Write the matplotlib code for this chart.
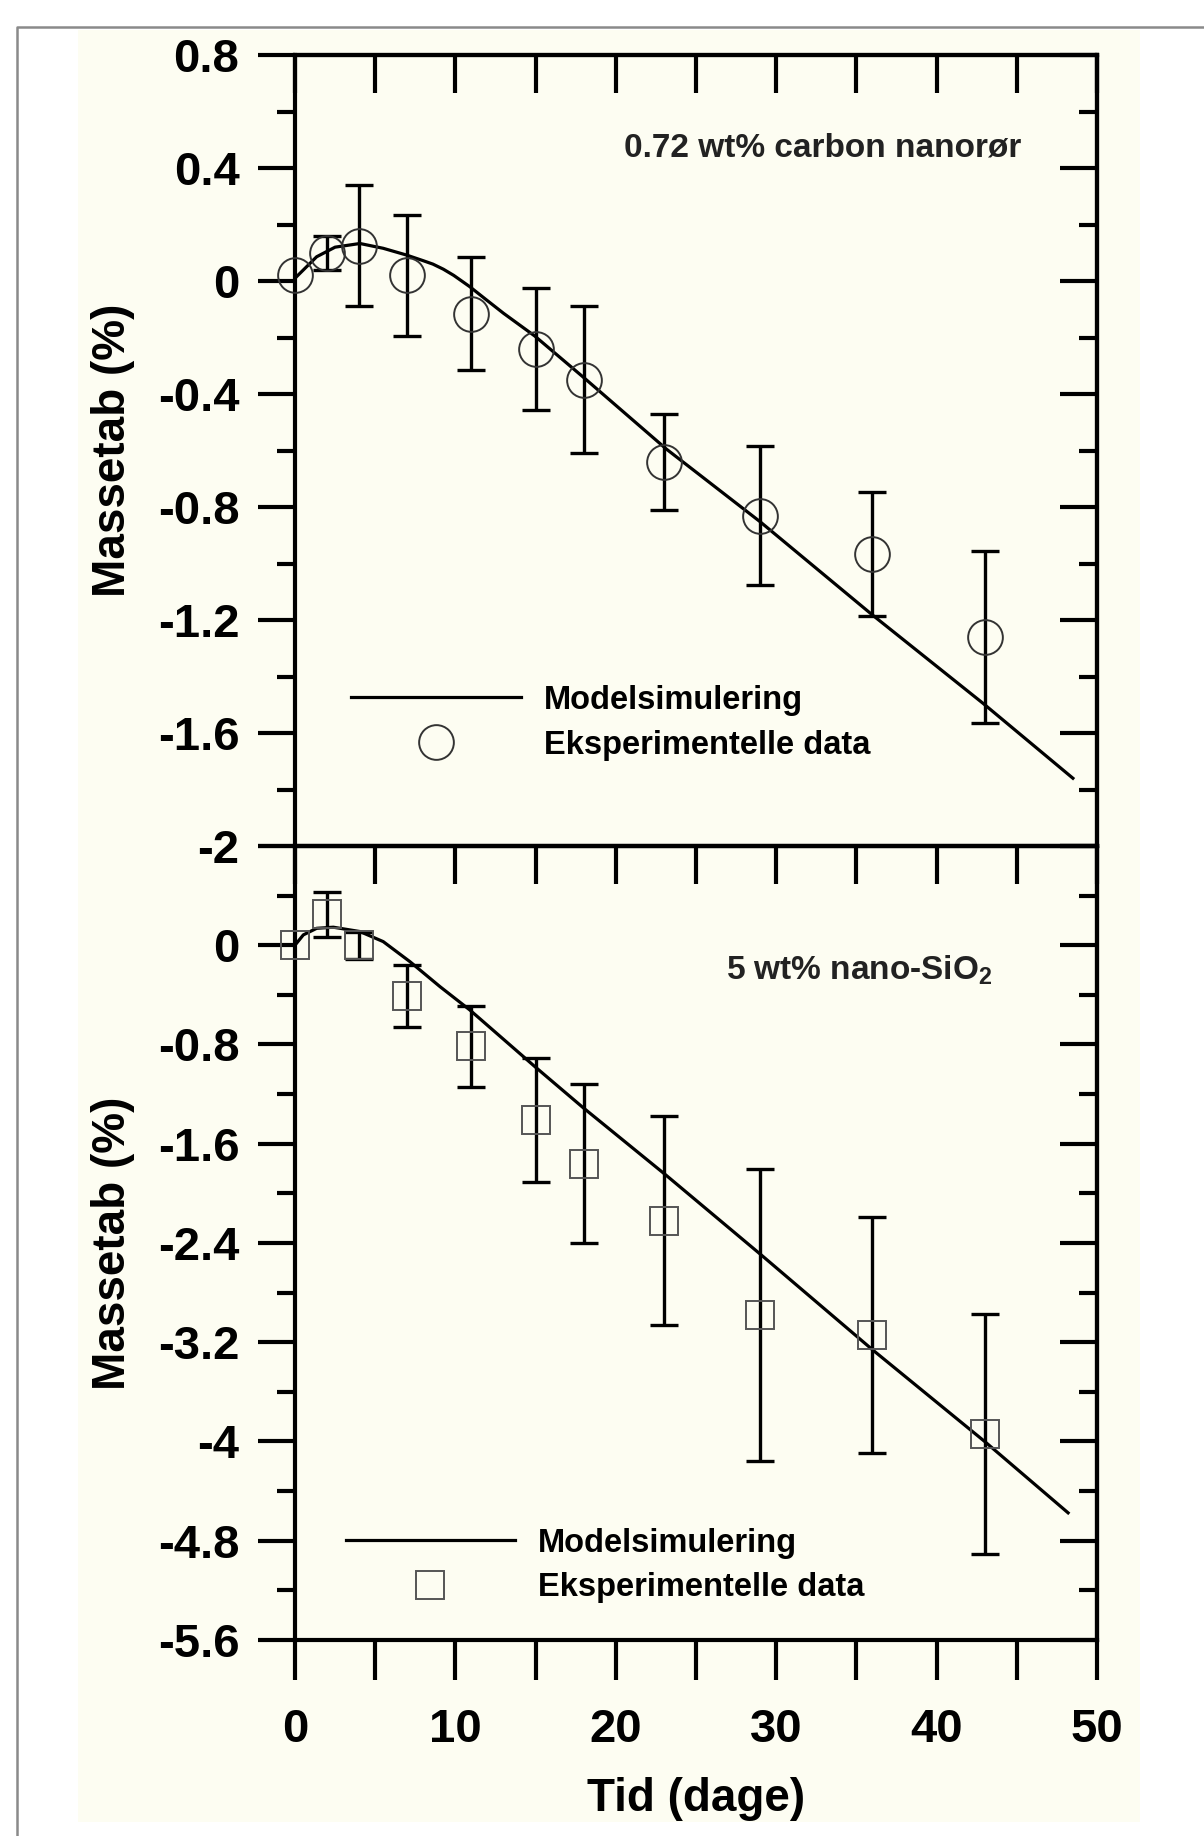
import matplotlib.pyplot as plt
import numpy as np
from matplotlib.lines import Line2D
from matplotlib.patches import Rectangle

plt.rcParams['font.family'] = ['Liberation Sans', 'DejaVu Sans']
plt.rcParams['font.weight'] = 'bold'
plt.rcParams['axes.labelweight'] = 'bold'
plt.rcParams['axes.unicode_minus'] = False
plt.rcParams['mathtext.fontset'] = 'custom'
plt.rcParams['mathtext.rm'] = 'Liberation Sans:bold'
plt.rcParams['mathtext.default'] = 'rm'

# days of measurement
days = [0, 2, 4, 7, 11, 15, 18, 23, 29, 36, 43]

# 0.72 wt% carbon nanotubes
cnt_mean = [0.02, 0.10, 0.125, 0.02, -0.115, -0.24, -0.35, -0.64, -0.83, -0.965, -1.26]
cnt_err = [0.0, 0.06, 0.215, 0.215, 0.20, 0.215, 0.26, 0.17, 0.245, 0.22, 0.305]
cnt_model_x = [0, 1.35, 2.5, 4.05, 5.5, 6.96, 8.0, 8.6, 9.25, 9.9, 10.9, 11.9, 13.0, 14.96,
               17.97, 23.16, 29.0, 36.0, 42.9, 48.5]
cnt_model_y = [0.01, 0.086, 0.12, 0.133, 0.116, 0.092, 0.072, 0.06, 0.042, 0.02, -0.02, -0.065,
               -0.114, -0.195, -0.34, -0.595, -0.852, -1.182, -1.495, -1.76]

# 5 wt% nano-SiO2
sio2_mean = [0.0, 0.25, 0.0, -0.41, -0.815, -1.41, -1.76, -2.22, -2.98, -3.14, -3.94]
sio2_err = [0.0, 0.18, 0.11, 0.25, 0.325, 0.50, 0.64, 0.84, 1.18, 0.95, 0.965]
sio2_model_x = [0, 0.52, 1.35, 2.39, 4.05, 5.5, 7.17, 9.04, 10.9, 14.96, 17.97,
                23.1, 29.1, 36.0, 43.0, 48.2]
sio2_model_y = [0.0, 0.083, 0.136, 0.145, 0.11, 0.029, -0.133, -0.334, -0.522, -0.979, -1.31,
                -1.85, -2.5, -3.26, -4.0, -4.575]

top_yticks = [-2, -1.6, -1.2, -0.8, -0.4, 0, 0.4, 0.8]
top_ylabels = ['-2', '-1.6', '-1.2', '-0.8', '-0.4', '0', '0.4', '0.8']
bot_yticks = [-5.6, -4.8, -4, -3.2, -2.4, -1.6, -0.8, 0, 0.8]
bot_ylabels = ['-5.6', '-4.8', '-4', '-3.2', '-2.4', '-1.6', '-0.8', '0', '']
xticks = [0, 10, 20, 30, 40, 50]

LW = 3.0
MAJ, MIN = 27, 13

fig = plt.figure(figsize=(12.04, 18.36), dpi=100, facecolor='white')
# cream page and grey frame of the scanned figure
fig.patches.append(Rectangle((78 / 1204, 1 - 1822 / 1836), (1140 - 78) / 1204, (1822 - 30) / 1836,
                             transform=fig.transFigure, facecolor='#fdfdf2', edgecolor='none', zorder=-2))
fig.add_artist(Line2D([17 / 1204, 17 / 1204, 1.0], [0.0, 1 - 27 / 1836, 1 - 27 / 1836],
                      transform=fig.transFigure, color='#8a8a8a', lw=1.8))

ax1 = fig.add_axes([0.2450, 0.5392, 0.6661, 0.4308])
ax2 = fig.add_axes([0.2450, 0.10675, 0.6661, 0.4325])


def style(ax, yticks, ylabels, yminor, top_only):
    ax.set_facecolor('none')
    for s in ax.spines.values():
        s.set_linewidth(LW)
    ax.set_xlim(0, 50)
    ax.set_ylim(yticks[0], yticks[-1])
    ax.set_yticks(yticks, ylabels)
    ax.set_yticks(np.arange(yticks[0], yticks[-1] + 1e-9, yminor), minor=True)
    ax.tick_params(axis='y', which='major', direction='out', length=MAJ, width=LW,
                   labelsize=34, pad=13, right=False)
    ax.tick_params(axis='y', which='minor', direction='out', length=MIN, width=LW, right=False)
    ax.set_xticks(xticks)
    ax.set_xticks(np.arange(5, 50, 10), minor=True)
    sec = ax.secondary_yaxis('right')
    sec.set_yticks(yticks, [''] * len(yticks))
    sec.set_yticks(np.arange(yticks[0], yticks[-1] + 1e-9, yminor), minor=True)
    sec.tick_params(axis='y', which='major', direction='in', length=MAJ, width=LW)
    sec.tick_params(axis='y', which='minor', direction='in', length=MIN, width=LW)
    sec.spines['right'].set_linewidth(LW)
    topx = ax.secondary_xaxis('top')
    topx.set_xticks(xticks, [''] * len(xticks))
    topx.set_xticks(np.arange(5, 50, 10), minor=True)
    topx.tick_params(axis='x', which='both', direction='in', length=MAJ, width=LW)
    topx.spines['top'].set_linewidth(LW)
    if top_only:
        ax.tick_params(axis='x', which='both', bottom=False, labelbottom=False)
    else:
        ax.tick_params(axis='x', which='both', direction='out', length=MAJ + 2, width=LW,
                       labelsize=34, pad=20)
        ax.set_xlabel('Tid (dage)', fontsize=33, labelpad=18)
    ax.set_ylabel('Massetab (%)', fontsize=33)
    ax.yaxis.set_label_coords(-0.2, 0.5)


def draw(ax, mean, err, model_x, model_y, marker, ms, mec):
    x = np.array(days)
    m = np.array(mean)
    e = np.array(err)
    keep = e > 0
    ax.plot(model_x, model_y, color='black', lw=2.3, zorder=3)
    ax.errorbar(x[keep], m[keep], yerr=e[keep], fmt='none', ecolor='black',
                elinewidth=2.4, capsize=10, capthick=2.4, zorder=4)
    ax.plot(x, m, linestyle='none', marker=marker, ms=ms, mfc='none', mec=mec,
            mew=1.4, clip_on=False, zorder=5)


style(ax1, top_yticks, top_ylabels, 0.2, True)
style(ax2, bot_yticks, bot_ylabels, 0.4, False)

draw(ax1, cnt_mean, cnt_err, cnt_model_x, cnt_model_y, 'o', 25, '#333333')
draw(ax2, sio2_mean, sio2_err, sio2_model_x, sio2_model_y, 's', 20, '#555555')

ax1.text(0.906, 0.882, '0.72 wt% carbon nanorør', transform=ax1.transAxes,
         ha='right', va='center', fontsize=24, color='#222222')
ax2.text(0.870, 0.843, '5 wt% nano-SiO$_2$', transform=ax2.transAxes,
         ha='right', va='center', fontsize=24, color='#222222')

for ax, marker, ms, mec, anchor in [(ax1, 'o', 25, '#333333', (0.07, 0.108)),
                                     (ax2, 's', 20, '#555555', (0.063, 0.046))]:
    handles = [Line2D([], [], color='black', lw=2.3),
               Line2D([], [], linestyle='none', marker=marker, ms=ms, mfc='none', mec=mec, mew=1.4)]
    ax.legend(handles, ['Modelsimulering', 'Eksperimentelle data'], loc='lower left',
              bbox_to_anchor=anchor, frameon=False, fontsize=23.5, handlelength=5.2,
              handletextpad=0.7, labelspacing=0.42, borderpad=0, borderaxespad=0,
              numpoints=1)

fig.savefig('out.png', dpi=100, facecolor='white')
